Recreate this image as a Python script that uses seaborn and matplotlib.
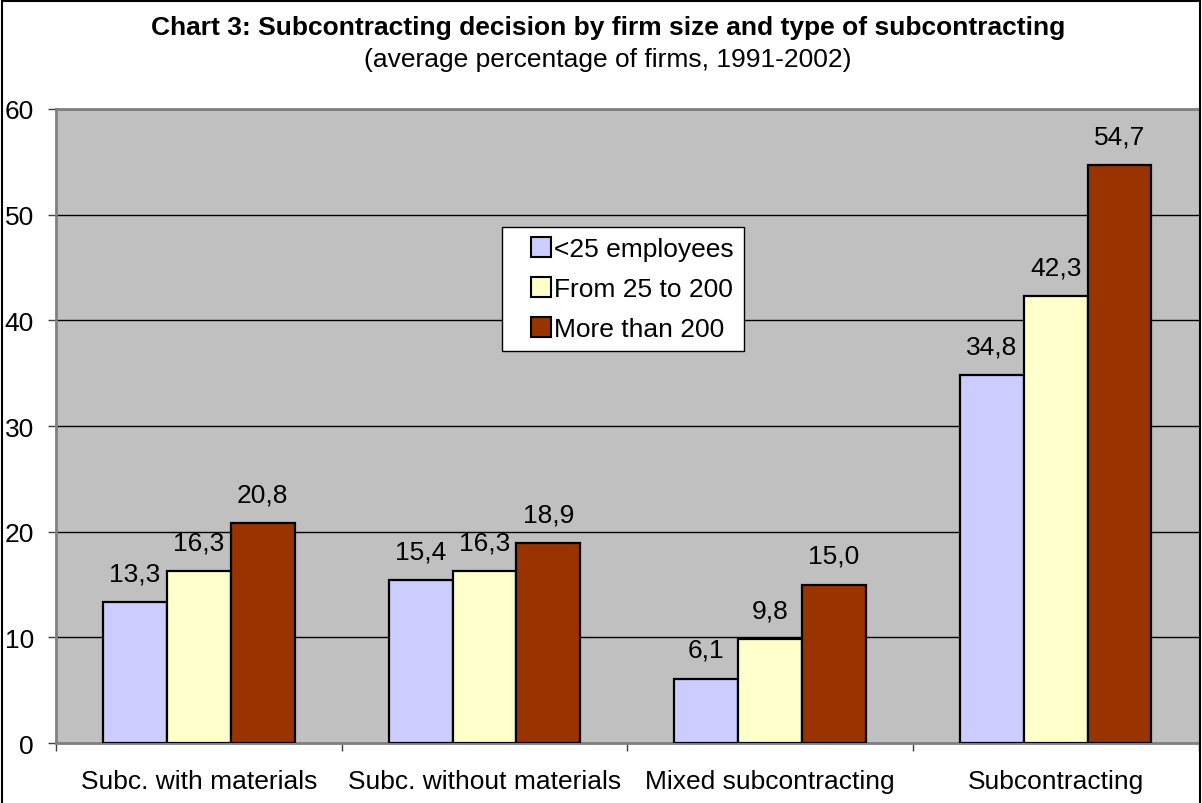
import matplotlib
matplotlib.use("Agg")
import matplotlib.pyplot as plt
from matplotlib.patches import Rectangle
from matplotlib.legend_handler import HandlerPatch
from matplotlib.ticker import FixedLocator
import seaborn as sns
import pandas as pd

# Chart data
categories = ["Subc. with materials", "Subc. without materials",
              "Mixed subcontracting", "Subcontracting"]
sizes = ["<25 employees", "From 25 to 200", "More than 200"]
small_firms = [13.3, 15.4, 6.1, 34.8]
medium_firms = [16.3, 16.3, 9.8, 42.3]
large_firms = [20.8, 18.9, 15.0, 54.7]
y_ticks = [0, 10, 20, 30, 40, 50, 60]

colors = ["#CCCCFF", "#FFFFCC", "#993300"]

rows = []
for size, values in zip(sizes, [small_firms, medium_firms, large_firms]):
    for cat, v in zip(categories, values):
        rows.append({"type": cat, "size": size, "value": v})
df = pd.DataFrame(rows)

sns.set_style("white")
plt.rcParams["font.family"] = ["Liberation Sans", "DejaVu Sans"]
plt.rcParams["text.color"] = "black"
plt.rcParams["xtick.color"] = "black"
plt.rcParams["ytick.color"] = "black"
plt.rcParams["axes.labelcolor"] = "black"

FS = 19

fig = plt.figure(figsize=(12.02, 8.04), dpi=100)
ax = fig.add_axes([0.0466, 0.0746, 0.9505, 0.7886])
ax.set_facecolor("#C0C0C0")

sns.barplot(data=df, x="type", y="value", hue="size", order=categories,
            hue_order=sizes, palette=colors, saturation=1, edgecolor="black",
            linewidth=1.6, width=0.67, gap=0, ax=ax, zorder=3)

# Value labels with decimal comma
for container in ax.containers:
    vals = container.datavalues
    ax.bar_label(container, labels=[f"{v:.1f}".replace(".", ",") for v in vals],
                 padding=12, fontsize=FS, color="black")

ax.set_ylim(0, 60)
ax.set_xlim(-0.5, len(categories) - 0.5)
ax.yaxis.set_major_locator(FixedLocator(y_ticks))
ax.set_yticklabels([str(t) for t in y_ticks])
ax.grid(axis="y", color="black", linewidth=1, zorder=1)
ax.set_axisbelow(True)

ax.xaxis.set_minor_locator(FixedLocator([i - 0.5 for i in range(len(categories) + 1)]))
ax.tick_params(axis="x", which="major", length=0, pad=19, labelsize=FS,
               labelcolor="black")
ax.tick_params(axis="x", which="minor", length=6, width=1, color="#404040",
               direction="out", bottom=True)
ax.tick_params(axis="y", which="major", length=6, width=1, color="#404040",
               direction="out", left=True, pad=10, labelsize=FS,
               labelcolor="black")

for side in ["top", "left", "bottom"]:
    ax.spines[side].set_color("#808080")
    ax.spines[side].set_linewidth(2)
ax.spines["right"].set_visible(False)

ax.set_xlabel("")
ax.set_ylabel("")


def square_right(legend, orig_handle, xdescent, ydescent, width, height, fontsize):
    # small square key placed at the right end of the handle box
    return Rectangle((width - xdescent - height, -ydescent), height, height)


leg = ax.legend(loc="upper left", bbox_to_anchor=(0.390, 0.814), borderaxespad=0,
                fontsize=FS, frameon=True, fancybox=False, edgecolor="black",
                framealpha=1, handlelength=1.5, handleheight=0.8,
                handletextpad=0.12, labelspacing=0.6, borderpad=0.38, title=None,
                handler_map={Rectangle: HandlerPatch(patch_func=square_right)})
leg.get_frame().set_linewidth(1)
for h in leg.legend_handles:
    h.set_edgecolor("black")
    h.set_linewidth(1.5)
for t in leg.get_texts():
    t.set_color("black")

fig.text(0.506, 0.965, "Chart 3: Subcontracting decision by firm size and type of subcontracting",
         ha="center", va="center", fontsize=FS, fontweight="bold", color="black")
fig.text(0.506, 0.925, "(average percentage of firms, 1991-2002)",
         ha="center", va="center", fontsize=FS, color="black")

# Outer chart border
fig.patches.append(Rectangle((0.002, -0.01), 0.996, 1.007, transform=fig.transFigure,
                             fill=False, edgecolor="black", linewidth=1.5))

fig.savefig("out.png", dpi=100)
